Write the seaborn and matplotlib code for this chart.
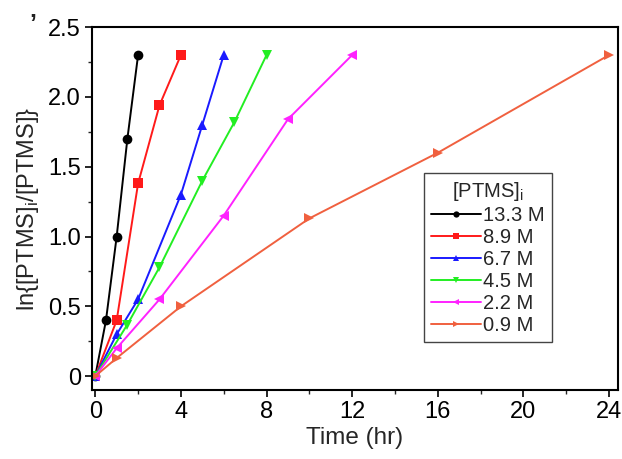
import matplotlib
matplotlib.use("Agg")
import matplotlib.pyplot as plt
import seaborn as sns
import pandas as pd
from matplotlib.ticker import MultipleLocator, FuncFormatter

labels = ["13.3 M", "8.9 M", "6.7 M", "4.5 M", "2.2 M", "0.9 M"]
t_133 = [0, 0.5, 1, 1.5, 2]
y_133 = [0, 0.40, 1.00, 1.70, 2.30]
t_89 = [0, 1, 2, 3, 4]
y_89 = [0, 0.40, 1.38, 1.94, 2.30]
t_67 = [0, 1, 2, 4, 5, 6]
y_67 = [0, 0.30, 0.55, 1.30, 1.80, 2.30]
t_45 = [0, 1.5, 3, 5, 6.5, 8]
y_45 = [0, 0.37, 0.78, 1.40, 1.82, 2.30]
t_22 = [0, 1, 3, 6, 9, 12]
y_22 = [0, 0.20, 0.55, 1.15, 1.84, 2.30]
t_09 = [0, 1, 4, 10, 16, 24]
y_09 = [0, 0.13, 0.50, 1.13, 1.60, 2.30]

series = [(t_133, y_133), (t_89, y_89), (t_67, y_67), (t_45, y_45), (t_22, y_22), (t_09, y_09)]
rows = []
for lab, (tt, yy) in zip(labels, series):
    for a, b in zip(tt, yy):
        rows.append({"Time": a, "val": b, "conc": lab})
df = pd.DataFrame(rows)

sns.set_theme(style="ticks")
plt.rcParams['font.family'] = ['Liberation Sans', 'DejaVu Sans']

colors = ["#000000", "#FF1A1A", "#1A1AFF", "#22EE22", "#FF22FF", "#F0603F"]
markers = ["o", "s", "^", "v", "<", ">"]

fig = plt.figure(figsize=(6.22, 4.59), dpi=100)
ax = fig.add_axes([0.148, 0.150, 0.845, 0.791])

sns.lineplot(data=df, x="Time", y="val", hue="conc", style="conc",
             hue_order=labels, style_order=labels,
             palette=dict(zip(labels, colors)),
             markers=dict(zip(labels, markers)), dashes=False,
             markersize=7, markeredgewidth=0, linewidth=1.4, ax=ax)

ax.set_xlim(-0.15, 24.4)
ax.set_ylim(-0.1, 2.5)
ax.xaxis.set_major_locator(MultipleLocator(4))
ax.xaxis.set_minor_locator(MultipleLocator(2))
ax.yaxis.set_major_locator(MultipleLocator(0.5))
ax.yaxis.set_minor_locator(MultipleLocator(0.25))
ax.yaxis.set_major_formatter(FuncFormatter(lambda v, p: "0" if abs(v) < 1e-9 else f"{v:.1f}"))
ax.tick_params(which="major", direction="out", length=5, width=1.2, labelsize=17, colors="black", pad=3)
ax.tick_params(which="minor", direction="out", length=3, width=1.0)
for s in ax.spines.values():
    s.set_linewidth(1.5)
    s.set_color("black")
    s.set_visible(True)

ax.set_xlabel("Time (hr)", fontsize=17.5, labelpad=3)
ax.set_ylabel("ln{[PTMS]$_\\mathregular{i}$/[PTMS]}", fontsize=17, labelpad=5)

leg = ax.legend(title="[PTMS]$_\\mathregular{i}$", loc="upper left",
                bbox_to_anchor=(0.631, 0.598), fontsize=14.5, title_fontsize=14.5,
                handlelength=2.5, handletextpad=0.1, labelspacing=0.15,
                borderpad=0.35, borderaxespad=0, fancybox=False, framealpha=1)
leg.get_frame().set_edgecolor("#444444")
leg.get_frame().set_linewidth(1.0)
for h in leg.legend_handles:
    h.set_markersize(4.5)

fig.text(29 / 622, 1 - 32 / 459, "\u2019", fontsize=18, fontweight="bold", color="#222222")

fig.savefig("out.png", dpi=100)
